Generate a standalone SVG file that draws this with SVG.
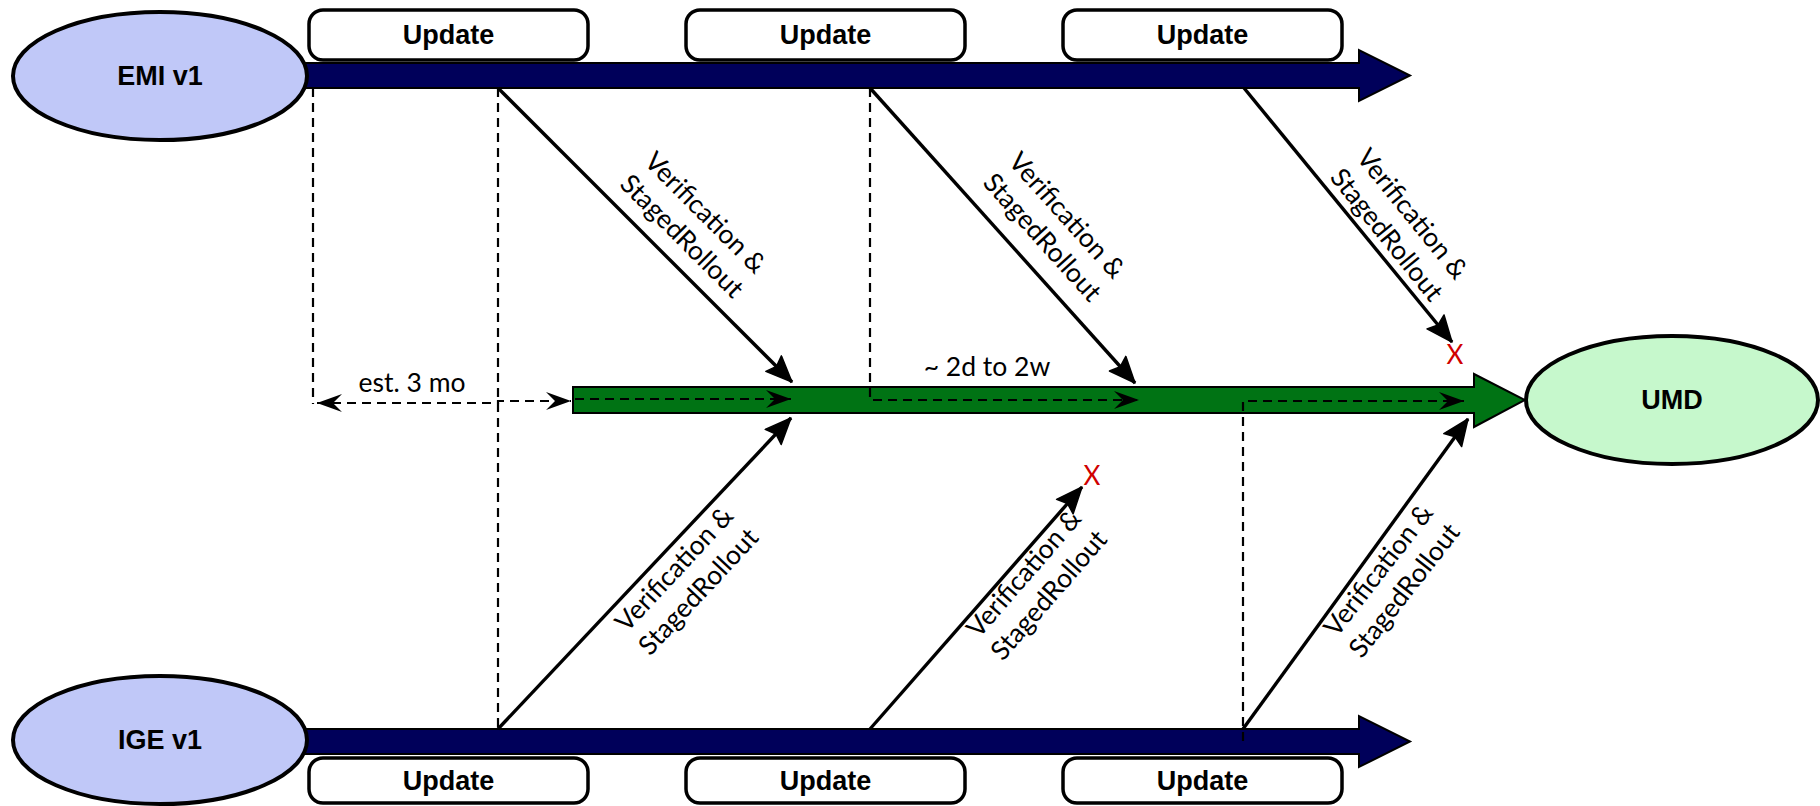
<svg xmlns="http://www.w3.org/2000/svg" width="1820" height="806" viewBox="0 0 1820 806">
<style>
.bar{fill:#00005a;stroke:#000;stroke-width:2}
.gbar{fill:#007314;stroke:#000;stroke-width:2}
.src{fill:#c0c8f8;stroke:#000;stroke-width:4}
.dst{fill:#c6f8cc;stroke:#000;stroke-width:4}
.box{fill:#fff;stroke:#000;stroke-width:3.5}
.bt{font-family:"Liberation Sans",Arial,sans-serif;font-weight:bold;font-size:27px;fill:#000;text-anchor:middle;dominant-baseline:central}
.lbl{font-family:Lato,"Open Sans",sans-serif;font-size:26.5px;fill:#000;text-anchor:middle}
.x{font-family:Lato,"Open Sans",sans-serif;font-size:26px;fill:#d00000;text-anchor:middle;dominant-baseline:central}
.solid{fill:none;stroke:#000;stroke-width:3.4;marker-end:url(#ah)}
.dash{fill:none;stroke:#000;stroke-width:2.2;stroke-dasharray:9 6}
</style>
<defs>
<marker id="ah" markerUnits="userSpaceOnUse" markerWidth="30" markerHeight="26" refX="27" refY="12" orient="auto" viewBox="0 0 30 26">
<path d="M1,1 L27,12 L1,23 L5,12 Z" fill="#000" stroke="#000" stroke-width="1.5" stroke-linejoin="round"/>
</marker>
<marker id="oa" markerUnits="userSpaceOnUse" markerWidth="28" markerHeight="22" refX="25" refY="10" orient="auto-start-reverse" viewBox="0 0 28 22">
<path d="M0,1 L25,10 L0,19 L9,10 Z" fill="#000"/>
</marker>
</defs>

<g id="bars">
<polygon class="bar" points="305,63 1359,63 1359,50 1410,75.5 1359,101 1359,88 305,88"/>
<polygon class="bar" points="305,729 1359,729 1359,716 1410,741.5 1359,767 1359,754 305,754"/>
<polygon class="gbar" points="573,387 1474,387 1474,374 1525,400 1474,427 1474,413 573,413"/>
</g>

<g id="connectors">
<line class="solid" x1="498" y1="88" x2="792" y2="382"/>
<line class="solid" x1="870" y1="88" x2="1135" y2="383"/>
<line class="solid" x1="1244" y1="88" x2="1452" y2="342"/>
<line class="solid" x1="498" y1="729" x2="791" y2="418"/>
<line class="solid" x1="870" y1="729" x2="1082" y2="487"/>
<line class="solid" x1="1243" y1="729" x2="1468" y2="419"/>
<line class="dash" x1="313" y1="88" x2="313" y2="404"/>
<line class="dash" x1="498" y1="88" x2="498" y2="729"/>
<path class="dash" d="M317,403 H498 V401 H571" marker-start="url(#oa)" marker-end="url(#oa)"/>
<path class="dash" d="M575,399 H791" marker-end="url(#oa)"/>
<path class="dash" d="M870,88 V400 H1139" marker-end="url(#oa)"/>
<path class="dash" d="M1243,741 V401 H1464" marker-end="url(#oa)"/>
<text class="lbl" transform="translate(694,224) rotate(45)"><tspan x="0" y="-7">Verification &amp;</tspan><tspan x="0" y="26">StagedRollout</tspan></text>
<text class="lbl" transform="translate(1055,226) rotate(48)"><tspan x="0" y="-7">Verification &amp;</tspan><tspan x="0" y="26">StagedRollout</tspan></text>
<text class="lbl" transform="translate(1400,224) rotate(51)"><tspan x="0" y="-7">Verification &amp;</tspan><tspan x="0" y="26">StagedRollout</tspan></text>
<text class="lbl" transform="translate(686,580) rotate(-47)"><tspan x="0" y="-7">Verification &amp;</tspan><tspan x="0" y="26">StagedRollout</tspan></text>
<text class="lbl" transform="translate(1036,584) rotate(-49)"><tspan x="0" y="-7">Verification &amp;</tspan><tspan x="0" y="26">StagedRollout</tspan></text>
<text class="lbl" transform="translate(1391,580) rotate(-52)"><tspan x="0" y="-7">Verification &amp;</tspan><tspan x="0" y="26">StagedRollout</tspan></text>
<text class="lbl" x="412" y="392">est. 3 mo</text>
<text class="lbl" x="987" y="376">~ 2d to 2w</text>
<text class="x" x="1455" y="354">X</text>
<text class="x" x="1092" y="475">X</text>
</g>

<g id="emi"><ellipse class="src" cx="160" cy="76" rx="147" ry="64"/><text class="bt" x="160" y="76">EMI v1</text></g>
<g id="ige"><ellipse class="src" cx="160" cy="740" rx="147" ry="64"/><text class="bt" x="160" y="740">IGE v1</text></g>
<g id="umd"><ellipse class="dst" cx="1672" cy="400" rx="146" ry="64"/><text class="bt" x="1672" y="400">UMD</text></g>

<g id="update-top-1"><rect class="box" x="309" y="10" width="279" height="50" rx="14"/><text class="bt" x="448.5" y="35">Update</text></g>
<g id="update-top-2"><rect class="box" x="686" y="10" width="279" height="50" rx="14"/><text class="bt" x="825.5" y="35">Update</text></g>
<g id="update-top-3"><rect class="box" x="1063" y="10" width="279" height="50" rx="14"/><text class="bt" x="1202.5" y="35">Update</text></g>
<g id="update-bottom-1"><rect class="box" x="309" y="758" width="279" height="45" rx="14"/><text class="bt" x="448.5" y="781">Update</text></g>
<g id="update-bottom-2"><rect class="box" x="686" y="758" width="279" height="45" rx="14"/><text class="bt" x="825.5" y="781">Update</text></g>
<g id="update-bottom-3"><rect class="box" x="1063" y="758" width="279" height="45" rx="14"/><text class="bt" x="1202.5" y="781">Update</text></g>
</svg>
